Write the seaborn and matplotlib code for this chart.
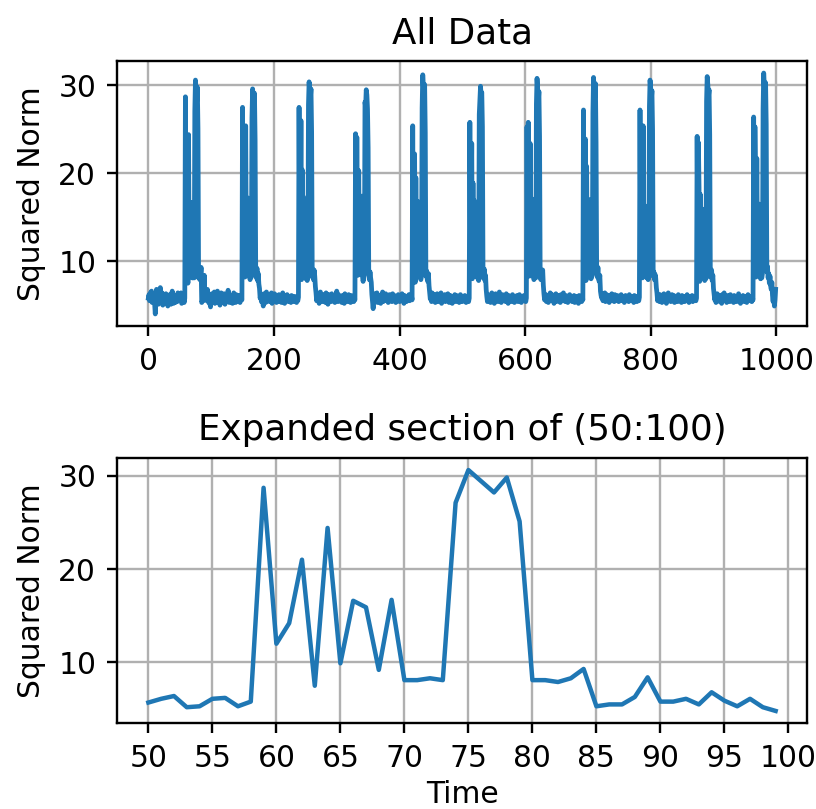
import matplotlib
matplotlib.use("Agg")
import matplotlib.pyplot as plt
import seaborn as sns
import numpy as np

# ---- data ----
pre_baseline = [5.8, 6.2, 5.5, 6.4, 5.9, 6.6, 5.3, 6.1, 5.7, 6.3,
                5.2, 4.0, 5.6, 6.8, 5.4, 6.0, 5.1, 6.5, 5.8, 7.0,
                6.2, 5.5, 6.4, 5.0, 5.9, 6.1, 5.3, 5.7, 6.3, 5.2,
                5.8, 4.9, 6.0, 5.4, 6.2, 5.6, 5.1, 5.9, 6.6, 5.5,
                5.2, 6.0, 5.7, 5.3, 6.1, 5.8, 5.4, 6.4, 5.9, 5.6]
section_50_99 = [5.7, 6.1, 6.4, 5.2, 5.3, 6.1, 6.2, 5.3, 5.8, 28.7,
                 12.0, 14.2, 21.0, 7.5, 24.4, 9.9, 16.6, 15.9, 9.2, 16.7,
                 8.1, 8.1, 8.3, 8.1, 27.1, 30.6, 29.4, 28.2, 29.8, 25.1,
                 8.1, 8.1, 7.9, 8.3, 9.3, 5.3, 5.5, 5.5, 6.3, 8.4,
                 5.8, 5.8, 6.1, 5.5, 6.8, 5.9, 5.3, 6.1, 5.2, 4.8]
tail1 = [5.9, 6.3, 5.4, 6.0, 5.7, 6.5, 5.2, 5.8, 6.2, 5.5,
         6.6, 5.3, 5.9, 6.1, 5.0, 5.6, 6.4, 5.8, 5.4, 6.0,
         5.7, 6.3, 5.1, 5.9, 6.2, 5.6, 5.4, 6.7, 5.8, 5.3,
         6.0, 5.5, 6.1, 5.7, 5.2, 5.9, 6.4, 5.6, 5.8, 5.3,
         6.2, 5.5, 5.9, 5.4, 6.1, 5.7, 5.3, 6.0, 5.8, 5.6]

burst2 = [27.5, 11.4, 15.1, 19.6, 8.2, 25.4, 10.3, 15.8, 17.2, 8.7, 14.9, 8.4, 7.9, 8.6, 8.2, 26.3, 29.6, 28.7, 27.6, 29.1, 23.8]
tail2 = [8.4, 8.1, 9.2, 7.8, 8.6, 7.4, 6.9, 5.8, 6.2, 5.4,
         6.1, 5.6, 4.9, 6.3, 5.7, 6.0, 5.3, 6.5, 5.8, 5.5,
         6.2, 5.9, 5.4, 6.1, 5.7, 6.4, 5.2, 5.8, 6.0, 5.5,
         6.3, 5.6, 5.9, 5.3, 6.1, 5.8, 5.4, 6.2, 5.7, 5.5,
         6.0, 5.3, 5.9, 6.4, 5.6, 5.8, 5.2, 6.1, 5.7, 5.5,
         6.2, 5.9, 5.4, 6.0, 5.6, 5.8, 5.3, 6.1, 5.7, 5.5,
         5.9, 5.4, 6.0, 5.6, 5.8, 5.3, 5.7, 5.5, 5.9]
burst3 = [27.5, 13.0, 12.6, 26.0, 7.9, 20.4, 9.4, 17.3, 14.5, 9.8, 15.6, 8.0, 8.5, 7.8, 8.4, 27.8, 30.4, 29.2, 28.5, 29.6, 24.7]
tail3 = [8.2, 8.7, 7.9, 9.0, 8.3, 7.1, 6.4, 5.5, 6.0, 5.7,
         6.3, 5.2, 5.9, 6.5, 5.6, 6.1, 5.4, 5.8, 6.2, 5.5,
         6.0, 5.3, 6.4, 5.7, 5.9, 5.1, 6.2, 5.6, 6.0, 5.8,
         5.4, 6.3, 5.7, 5.5, 6.1, 5.9, 5.3, 6.0, 5.6, 6.6,
         5.8, 5.4, 6.2, 5.7, 5.5, 6.0, 5.9, 5.3, 6.1, 5.6,
         5.8, 5.2, 6.3, 5.7, 5.5, 6.0, 5.4, 5.9, 6.2, 5.6,
         5.8, 5.3, 6.1, 5.7, 5.5, 6.0, 5.4, 5.8, 5.6]
burst4 = [24.5, 10.8, 24.1, 14.2, 8.4, 20.3, 11.2, 16.1, 13.7, 8.5, 17.4, 8.3, 7.7, 8.2, 8.6, 28.1, 27.6, 29.5, 28.9, 27.3, 22.9]
tail4 = [8.5, 7.9, 8.8, 8.1, 7.6, 6.2, 5.4, 4.6, 5.9, 6.3,
         5.5, 6.0, 5.7, 6.4, 5.3, 5.8, 6.1, 5.6, 5.9, 5.2,
         6.2, 5.7, 6.5, 5.4, 5.9, 6.0, 5.5, 6.3, 5.8, 5.6,
         6.1, 5.3, 5.9, 6.2, 5.7, 5.5, 6.0, 5.4, 6.3, 5.8,
         5.6, 6.1, 5.9, 5.3, 6.0, 5.7, 5.5, 6.2, 5.8, 5.4,
         6.0, 5.6, 5.9, 6.3, 5.5, 5.8, 5.2, 6.1, 5.7, 5.9,
         5.4, 6.0, 5.6, 5.8, 6.2, 5.5, 5.9, 5.7, 6.1, 5.6]
burst5 = [25.4, 12.1, 16.3, 22.2, 7.6, 19.5, 10.1, 15.2, 16.8, 9.1, 14.3, 8.6, 8.1, 7.9, 8.3, 27.4, 31.2, 29.8, 28.4, 30.1, 24.6]
tail5 = [8.3, 8.9, 8.0, 7.7, 8.6, 7.2, 6.5, 5.7, 6.1, 5.4,
         6.4, 5.8, 5.5, 6.2, 5.9, 5.3, 6.0, 5.6, 6.3, 5.7,
         5.4, 6.1, 5.8, 5.5, 6.4, 5.2, 5.9, 6.0, 5.6, 5.8,
         6.2, 5.4, 5.7, 6.0, 5.5, 6.3, 5.8, 5.3, 5.9, 6.1,
         5.6, 5.8, 5.2, 6.0, 5.7, 5.5, 6.2, 5.9, 5.4, 6.1,
         5.7, 5.5, 6.0, 5.3, 5.8, 6.2, 5.6, 5.9, 5.4, 6.0,
         5.7, 5.5, 6.1, 5.8, 5.3, 5.9, 5.6, 6.0, 5.4, 5.8]
burst6 = [25.8, 11.7, 14.8, 23.4, 8.0, 18.9, 9.6, 16.9, 15.4, 8.8, 16.2, 8.2, 8.4, 8.0, 7.8, 26.7, 28.3, 29.9, 28.8, 29.2, 25.3]
tail6 = [8.1, 8.6, 9.1, 7.8, 8.4, 6.8, 6.0, 5.4, 6.2, 5.7,
         5.5, 6.1, 5.3, 5.9, 6.4, 5.6, 5.8, 6.0, 5.2, 5.7,
         6.3, 5.5, 5.9, 6.1, 5.4, 5.8, 6.5, 5.6, 6.0, 5.3,
         5.9, 6.2, 5.7, 5.5, 6.0, 5.8, 5.4, 6.3, 5.6, 5.9,
         5.2, 6.1, 5.7, 5.5, 6.0, 5.8, 5.4, 6.2, 5.6, 5.9,
         5.3, 6.0, 5.7, 5.5, 6.1, 5.8, 5.4, 5.9, 6.2, 5.6,
         5.7, 5.3, 6.0, 5.8, 5.5, 6.1, 5.6, 5.9, 5.4, 5.8]
burst7 = [25.3, 10.9, 25.8, 15.6, 8.3, 23.4, 10.5, 14.7, 17.1, 9.0, 15.3, 7.9, 8.3, 8.5, 8.1, 27.9, 30.8, 29.6, 28.1, 29.3, 24.2]
tail7 = [8.4, 7.9, 8.7, 8.2, 9.0, 7.3, 6.3, 5.6, 5.9, 6.2,
         5.4, 6.0, 5.7, 5.3, 6.1, 5.8, 6.4, 5.5, 5.9, 6.2,
         5.6, 5.8, 5.2, 6.0, 5.7, 6.3, 5.4, 5.9, 6.1, 5.5,
         5.8, 6.0, 5.3, 6.2, 5.7, 5.5, 5.9, 6.4, 5.6, 5.8,
         5.4, 6.1, 5.7, 6.0, 5.3, 5.9, 5.6, 6.2, 5.5, 5.8,
         6.0, 5.4, 5.9, 5.7, 6.1, 5.3, 5.8, 5.6, 6.0, 5.5,
         5.9, 5.2, 6.1, 5.7, 5.5, 5.8, 5.4, 6.0, 5.6]
burst8 = [27.2, 12.4, 15.7, 23.9, 7.8, 20.8, 9.7, 16.4, 14.9, 8.6, 17.0, 8.4, 8.0, 8.2, 8.5, 26.9, 30.9, 29.1, 28.6, 30.2, 23.5]
tail8 = [8.6, 8.2, 9.3, 8.0, 7.7, 8.4, 6.6, 6.1, 5.8, 6.3,
         5.5, 6.0, 5.7, 6.4, 5.4, 5.9, 6.2, 5.6, 5.8, 6.0,
         5.3, 6.1, 5.7, 5.9, 6.3, 5.5, 5.8, 6.0, 5.4, 6.2,
         5.7, 5.9, 5.6, 6.1, 5.8, 5.4, 6.0, 5.7, 5.5, 6.2,
         5.9, 5.6, 5.8, 6.0, 5.3, 5.9, 6.1, 5.7, 5.5, 6.0,
         5.8, 5.4, 6.2, 5.6, 5.9, 5.7, 6.0, 5.5, 5.8, 5.3,
         6.1, 5.6, 5.9, 5.7, 5.4, 6.0, 5.8, 5.5, 5.9]
burst9 = [27.2, 11.6, 22.0, 14.4, 8.1, 25.4, 10.2, 15.5, 16.3, 9.3, 14.8, 8.1, 8.6, 7.9, 8.2, 27.6, 30.6, 29.7, 28.3, 29.4, 25.0]
tail9 = [8.3, 8.8, 7.9, 8.5, 8.1, 7.0, 6.4, 5.5, 6.1, 5.8,
         5.4, 6.2, 5.7, 5.9, 5.3, 6.0, 5.6, 6.3, 5.8, 5.5,
         6.1, 5.2, 5.9, 5.7, 6.4, 5.6, 5.8, 6.0, 5.4, 5.9,
         6.2, 5.5, 5.7, 6.1, 5.3, 5.8, 6.0, 5.6, 5.9, 5.4,
         6.2, 5.7, 5.5, 6.0, 5.8, 5.3, 6.1, 5.6, 5.9, 5.7,
         5.4, 6.0, 5.8, 5.5, 6.2, 5.6, 5.9, 5.3, 6.0, 5.7,
         5.5, 5.8, 6.1, 5.4, 5.9, 5.6, 6.0, 5.7, 5.5, 5.8]
burst10 = [24.2, 12.2, 23.5, 18.4, 7.7, 17.6, 9.9, 16.0, 15.1, 8.9, 15.9, 8.3, 7.8, 8.4, 8.0, 28.2, 31.0, 30.1, 28.7, 29.5, 24.4]
tail10 = [8.2, 8.7, 9.0, 7.8, 8.4, 6.9, 6.2, 5.6, 6.0, 5.3,
          5.9, 6.3, 5.5, 5.8, 6.1, 5.4, 6.0, 5.7, 5.2, 6.2,
          5.6, 5.9, 6.4, 5.5, 5.8, 6.0, 5.3, 5.9, 6.1, 5.6,
          5.8, 5.4, 6.2, 5.7, 5.5, 6.0, 5.9, 5.3, 6.1, 5.6,
          5.8, 6.0, 5.4, 5.9, 5.7, 6.3, 5.5, 5.8, 5.2, 6.0,
          5.7, 5.5, 6.1, 5.8, 5.4, 5.9, 5.6, 6.0, 5.3, 5.8,
          6.2, 5.6, 5.9, 5.5, 5.7, 6.0, 5.4, 5.8, 5.6]
burst11 = [26.4, 11.3, 25.3, 19.6, 8.2, 21.7, 10.6, 15.3, 16.5, 8.7, 16.1, 8.0, 8.3, 8.1, 8.6, 27.3, 31.4, 29.9, 28.5, 30.3, 25.6]
tail11 = [8.8, 9.4, 8.1, 8.6, 7.5, 8.3, 7.2, 6.8, 7.6, 6.1, 5.4, 6.6, 4.9, 5.6, 6.8]

squared_norm = (pre_baseline + section_50_99 + tail1
                + burst2 + tail2 + burst3 + tail3 + burst4 + tail4
                + burst5 + tail5 + burst6 + tail6 + burst7 + tail7
                + burst8 + tail8 + burst9 + tail9 + burst10 + tail10
                + burst11 + tail11)
time = list(range(len(squared_norm)))

zoom_start, zoom_stop = 50, 100
zoom_ticks = list(range(50, 101, 5))

# ---- figure ----
dpi = 214
fig = plt.figure(figsize=(816 / dpi, 809 / dpi), dpi=dpi)
ax1 = fig.add_axes([117 / 816, 1 - 326 / 809, 690 / 816, 265 / 809])
ax2 = fig.add_axes([117 / 816, 1 - 723 / 809, 690 / 816, 265 / 809])

line_color = "#1f77b4"
sns.lineplot(x=time, y=squared_norm, ax=ax1, color=line_color, linewidth=1.6)
ax1.set_title("All Data")
ax1.set_ylabel("Squared Norm")
ax1.set_xlabel("")
ax1.grid(True)

sns.lineplot(x=time[zoom_start:zoom_stop], y=squared_norm[zoom_start:zoom_stop],
             ax=ax2, color=line_color, linewidth=1.5)
ax2.set_title("Expanded section of (50:100)")
ax2.set_ylabel("Squared Norm")
ax2.set_xlabel("Time", labelpad=2.5)
ax2.set_xticks(zoom_ticks)
ax2.grid(True)

fig.savefig("out.png", dpi=dpi)
